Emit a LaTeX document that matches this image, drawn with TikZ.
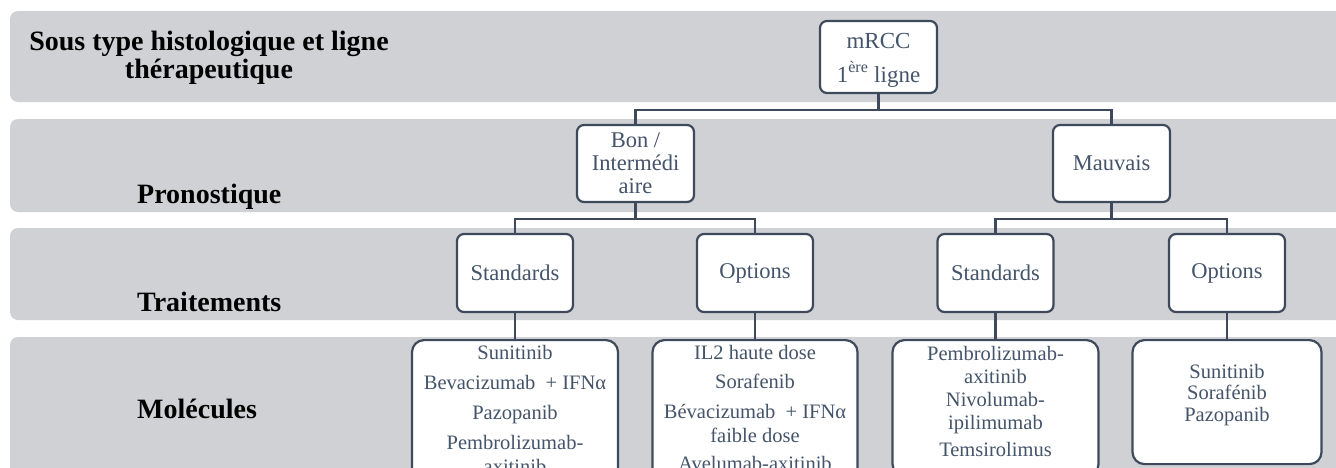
\documentclass[tikz,border=0pt]{standalone}
\usepackage{fontspec}
\setmainfont{Liberation Serif}
\usetikzlibrary{calc}
\definecolor{bandgray}{RGB}{208,209,213}
\definecolor{boxline}{RGB}{62,74,92}
\definecolor{boxtext}{RGB}{68,84,106}
\begin{document}
\begin{tikzpicture}[x=1pt,y=-1pt,
  band/.style={fill=bandgray, rounded corners=8pt},
  rowlabel/.style={font=\fontsize{28}{28}\selectfont\bfseries, text=black, inner sep=0pt},
  tbox/.style={draw=boxline, line width=2.2pt, rounded corners=7pt, fill=white, text=boxtext, inner sep=0pt, align=center, font=\fontsize{22.5}{23}\selectfont},
  molbox/.style={draw=boxline, line width=2.2pt, rounded corners=12pt, fill=white, text=boxtext, inner sep=0pt, anchor=north},
  link/.style={draw=boxline, line width=2.2pt}]
\useasboundingbox (0,0) rectangle (1336,467);
\clip (0,0) rectangle (1336,467);
% bands
\path[band] (10,11) rectangle (1360,102);
\path[band] (10,119) rectangle (1360,212);
\path[band] (10,228) rectangle (1360,320);
\path[band] (10,337) rectangle (1360,520);
% row labels
\node[rowlabel, align=center] (l1) at (209,57.5) {Sous type histologique et ligne\\thérapeutique};
\node[rowlabel, anchor=base west] (l2) at (137,203) {Pronostique};
\node[rowlabel, anchor=base west] (l3) at (137,311) {Traitements};
\node[rowlabel, anchor=base west] (l4) at (137,418) {Molécules};
% tree nodes
\node[tbox, minimum width=117pt, minimum height=72pt, font=\fontsize{23}{34}\selectfont] (mrcc) at (878.5,57) {\rule{0pt}{21pt}mRCC\\1\textsuperscript{ère} ligne};
\node[tbox, minimum width=117pt, minimum height=77pt] (bon) at (635.5,163.5) {Bon /\\Intermédi\\aire};
\node[tbox, minimum width=117pt, minimum height=77pt] (mauv) at (1111.5,163.5) {Mauvais};
\node[tbox, minimum width=116pt, minimum height=78pt] (std1) at (515,273) {Standards};
\node[tbox, minimum width=116pt, minimum height=78pt] (opt1) at (755,273) {Options};
\node[tbox, minimum width=116pt, minimum height=78pt] (std2) at (995.5,273) {Standards};
\node[tbox, minimum width=116pt, minimum height=78pt] (opt2) at (1227,273) {Options};
% molecule boxes
\node[molbox, minimum width=206pt] (m1) at (515,339) {\parbox[t]{200pt}{\centering\fontsize{20.5}{24}\selectfont\rule{0pt}{19pt}Sunitinib\\[6pt]Bevacizumab\enspace+ IFNα\\[6pt]Pazopanib\\[6pt]Pembrolizumab-\\axitinib\rule[-20pt]{0pt}{20pt}}};
\node[molbox, minimum width=205pt] (m2) at (755,339) {\parbox[t]{200pt}{\centering\fontsize{20.5}{24}\selectfont\rule{0pt}{19pt}IL2 haute dose\\[5pt]Sorafenib\\[6pt]Bévacizumab\enspace+ IFNα\\faible dose\\[4pt]Avelumab-axitinib\rule[-20pt]{0pt}{20pt}}};
\node[molbox, minimum width=206pt] (m3) at (995.5,339) {\parbox[t]{200pt}{\centering\fontsize{20.5}{23}\selectfont\rule{0pt}{20pt}Pembrolizumab-\\axitinib\\Nivolumab-\\ipilimumab\\[4pt]Temsirolimus\rule[-20pt]{0pt}{20pt}}};
\node[molbox, minimum width=189pt] (m4) at (1227,339) {\parbox[t]{180pt}{\centering\fontsize{20.5}{21.5}\selectfont\rule{0pt}{38pt}Sunitinib\\Sorafénib\\Pazopanib\rule[-43pt]{0pt}{43pt}}};
% connectors
\draw[link] (mrcc.south) -- ++(0,16) -| (bon.north);
\draw[link] (mrcc.south) -- ++(0,16) -| (mauv.north);
\draw[link] (bon.south) -- ++(0,16) -| (std1.north);
\draw[link] (bon.south) -- ++(0,16) -| (opt1.north);
\draw[link] (mauv.south) -- ++(0,16) -| (std2.north);
\draw[link] (mauv.south) -- ++(0,16) -| (opt2.north);
\draw[link] (std1.south) -- (m1.north);
\draw[link] (opt1.south) -- (m2.north);
\draw[link] (std2.south) -- (m3.north);
\draw[link] (opt2.south) -- (m4.north);
\end{tikzpicture}
\end{document}
